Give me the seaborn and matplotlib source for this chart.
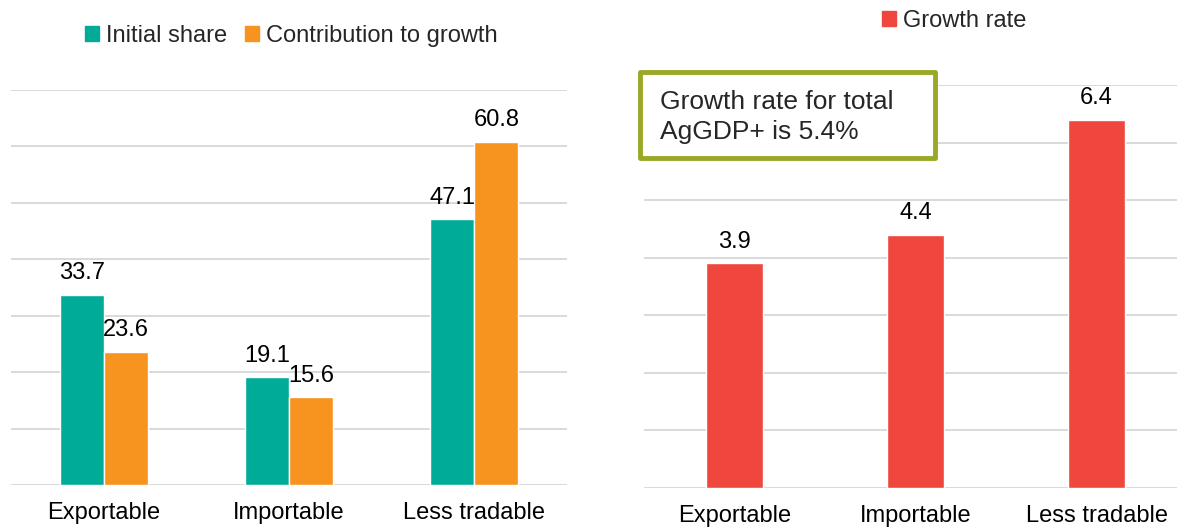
import matplotlib
matplotlib.use("Agg")
import matplotlib.pyplot as plt
import seaborn as sns
import pandas as pd
from matplotlib.patches import Patch, Rectangle

# ---- data ----
categories = ["Exportable", "Importable", "Less tradable"]
initial_share = [33.7, 19.1, 47.1]
contribution_to_growth = [23.6, 15.6, 60.8]
growth_rate = [3.9, 4.4, 6.4]
left_series = ["Initial share", "Contribution to growth"]
right_series = "Growth rate"
note_text = "Growth rate for total\nAgGDP+ is 5.4%"

# ---- style ----
TEAL = "#00ac98"
ORANGE = "#f7941f"
RED = "#ef473d"
OLIVE = "#9aa826"
GRID = "#d9d9d9"
FS = 17

W, H = 1177, 527
sns.set_theme(style="white")
plt.rcParams['font.family'] = ['Liberation Sans', 'DejaVu Sans']

fig = plt.figure(figsize=(W / 100, H / 100), dpi=100)


def ax_px(left, right, bottom, top):
    return fig.add_axes([left / W, 1 - bottom / H, (right - left) / W, (bottom - top) / H])


def style_axis(ax, ymax, step):
    ax.set_ylim(0, ymax)
    ax.set_yticks([i * step for i in range(int(round(ymax / step)) + 1)])
    ax.set_yticklabels([])
    ax.tick_params(axis="y", length=0)
    ax.tick_params(axis="x", length=0, pad=12, labelsize=FS, colors="black")
    ax.grid(axis="y", color=GRID, linewidth=1.4)
    ax.grid(axis="x", visible=False)
    ax.set_axisbelow(True)
    for s in ax.spines.values():
        s.set_visible(False)
    ax.set_xlabel("")
    ax.set_ylabel("")
    ax.set_xlim(-0.5, 2.5)


# ---- left panel ----
ax1 = ax_px(11, 567, 485, 90)
df1 = pd.DataFrame({
    "category": categories * 2,
    "series": [left_series[0]] * 3 + [left_series[1]] * 3,
    "value": initial_share + contribution_to_growth,
})
sns.barplot(data=df1, x="category", y="value", hue="series", hue_order=left_series,
            palette=[TEAL, ORANGE], width=0.475, gap=0, saturation=1,
            errorbar=None, legend=False, ax=ax1)
style_axis(ax1, 70, 10)
for c in ax1.containers:
    ax1.bar_label(c, fmt="%.1f", padding=7.5, fontsize=FS, color="black")

fig.legend(handles=[Patch(color=TEAL, label=left_series[0]),
                    Patch(color=ORANGE, label=left_series[1])],
           loc="center", bbox_to_anchor=(291 / W, 1 - 36 / H), ncol=2, frameon=False,
           fontsize=FS, handlelength=0.6, handleheight=0.6, handletextpad=0.3,
           columnspacing=0.75, borderpad=0)

# ---- right panel ----
ax2 = ax_px(644, 1187, 488, 85)
df2 = pd.DataFrame({"category": categories, "value": growth_rate})
sns.barplot(data=df2, x="category", y="value", color=RED, width=0.31, saturation=1,
            errorbar=None, ax=ax2)
style_axis(ax2, 7, 1)
for c in ax2.containers:
    ax2.bar_label(c, fmt="%.1f", padding=7.5, fontsize=FS, color="black")

fig.legend(handles=[Patch(color=RED, label=right_series)],
           loc="center", bbox_to_anchor=(954 / W, 1 - 21 / H), frameon=False,
           fontsize=FS, handlelength=0.6, handleheight=0.6, handletextpad=0.3,
           borderpad=0)

# ---- note box ----
bx0, by0, bx1, by1 = 640, 72, 935, 158
fig.patches.append(Rectangle((bx0 / W, 1 - by1 / H), (bx1 - bx0) / W, (by1 - by0) / H,
                             transform=fig.transFigure, facecolor="white",
                             edgecolor=OLIVE, linewidth=3.5, joinstyle="round",
                             zorder=5))
fig.text(660 / W, 1 - 117 / H, note_text, fontsize=19, ha="left", va="center",
         linespacing=1.35, zorder=6)

fig.savefig("out.png", dpi=100)
